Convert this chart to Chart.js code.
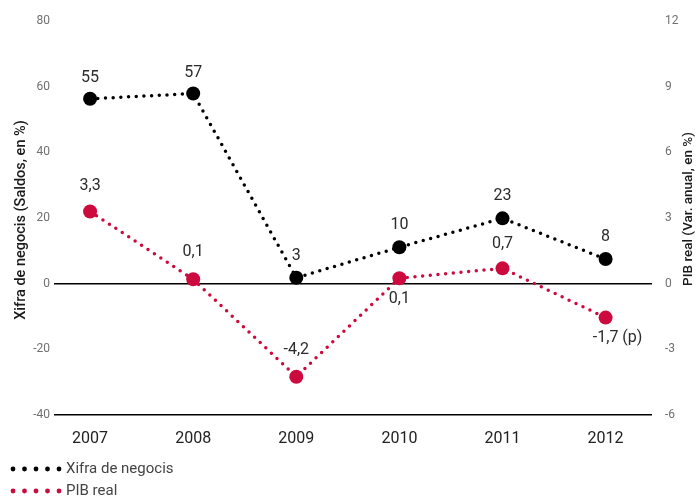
<!DOCTYPE html>
<html>
<head>
<meta charset="utf-8">
<script src="https://cdn.jsdelivr.net/npm/chart.js@4/dist/chart.umd.min.js"></script>
<style>
  html, body { margin: 0; padding: 0; background: #fff; }
  #wrap { width: 696px; height: 500px; }
</style>
</head>
<body>
<div id="wrap"><canvas id="chart"></canvas></div>
<script>
var years = ['2007', '2008', '2009', '2010', '2011', '2012']
var xifraValues = [56.3, 57.9, 1.8, 11.1, 19.9, 7.5]
var xifraLabels = ['55', '57', '3', '10', '23', '8']
var pibValues = [3.3, 0.2, -4.25, 0.25, 0.7, -1.55]
var pibLabels = ['3,3', '0,1', '-4,2', '0,1', '0,7', '-1,7 (p)']
var leftTicks = [80, 60, 40, 20, 0, -20, -40]
var rightTicks = [12, 9, 6, 3, 0, -3, -6]
var leftTitle = 'Xifra de negocis (Saldos, en %)'
var rightTitle = 'PIB real (Var. anual, en %)'

var black = '#000000'
var red = '#cc0a3e'
Chart.defaults.font.family = 'Roboto, sans-serif'

function toPoints(values) {
    return values.map(function (v, i) { return { x: i, y: v } })
}

// where each value label goes relative to its point
var labelPlace = {
    0: { dy: [-21, -21, -22, -22, -22, -22], dx: [0, 0, 0, 0, 0, 0] },
    1: { dy: [-25, -27, -27, 21, -24, 20], dx: [0, 0, 0, 0, 0, 12] }
}

var valueLabels = {
    id: 'valueLabels',
    afterDatasetsDraw: function (chart) {
        var ctx = chart.ctx
        ctx.save()
        ctx.font = '16px Roboto'
        ctx.fillStyle = '#2b2b2b'
        ctx.textAlign = 'center'
        ctx.textBaseline = 'middle'
        chart.data.datasets.forEach(function (ds, d) {
            var meta = chart.getDatasetMeta(d)
            meta.data.forEach(function (pt, i) {
                ctx.fillText(ds.valueText[i], pt.x + labelPlace[d].dx[i], pt.y + labelPlace[d].dy[i])
            })
        })
        ctx.restore()
    }
}

// both axis titles read bottom to top
var axisTitles = {
    id: 'axisTitles',
    afterDraw: function (chart) {
        var ctx = chart.ctx
        ctx.save()
        ctx.fillStyle = '#1a1a1a'
        ctx.textAlign = 'center'
        ctx.textBaseline = 'middle'
        ;[[21, 220, 14.5, leftTitle], [689, 209, 13.5, rightTitle]].forEach(function (t) {
            ctx.save()
            ctx.font = '500 ' + t[2] + 'px Roboto'
            ctx.translate(t[0], t[1])
            ctx.rotate(-Math.PI / 2)
            ctx.fillText(t[3], 0, 0)
            ctx.restore()
        })
        ctx.restore()
    }
}

var dotLegend = {
    id: 'dotLegend',
    afterDraw: function (chart) {
        var ctx = chart.ctx
        ctx.save()
        ctx.font = '15px Roboto'
        ctx.textBaseline = 'middle'
        chart.data.datasets.forEach(function (ds, d) {
            var y = 469 + d * 22
            ctx.fillStyle = ds.borderColor
            for (var k = 0; k < 5; k++) {
                ctx.beginPath()
                ctx.arc(13 + k * 11.5, y, 2.4, 0, Math.PI * 2)
                ctx.fill()
            }
            ctx.fillStyle = '#444'
            ctx.fillText(ds.label, 66, y)
        })
        ctx.restore()
    }
}

new Chart(document.getElementById('chart'), {
    type: 'line',
    data: {
        datasets: [{
            label: 'Xifra de negocis',
            data: toPoints(xifraValues),
            valueText: xifraLabels,
            yAxisID: 'y',
            borderColor: black,
            backgroundColor: black,
            borderWidth: 3.5,
            borderDash: [0, 7.7],
            borderCapStyle: 'round',
            pointRadius: 7,
            pointBorderWidth: 0,
            pointBackgroundColor: black,
            tension: 0
        }, {
            label: 'PIB real',
            data: toPoints(pibValues),
            valueText: pibLabels,
            yAxisID: 'y2',
            borderColor: red,
            backgroundColor: red,
            borderWidth: 3.5,
            borderDash: [0, 7.7],
            borderCapStyle: 'round',
            pointRadius: 7,
            pointBorderWidth: 0,
            pointBackgroundColor: red,
            tension: 0
        }]
    },
    options: {
        responsive: true,
        maintainAspectRatio: false,
        animation: false,
        layout: { padding: { top: 21, bottom: 45, left: 0, right: 0 } },
        plugins: {
            legend: { display: false },
            tooltip: { enabled: false }
        },
        scales: {
            x: {
                type: 'linear',
                min: -0.35,
                max: 5.45,
                afterBuildTicks: function (scale) {
                    scale.ticks = years.map(function (y, i) { return { value: i } })
                },
                afterFit: function (scale) { scale.height = 40 },
                ticks: {
                    callback: function (v) { return years[v] },
                    color: '#222',
                    font: { size: 16 },
                    padding: 6,
                    maxRotation: 0
                },
                grid: { display: false },
                border: { display: false }
            },
            y: {
                position: 'left',
                min: -40,
                max: 80,
                afterBuildTicks: function (scale) {
                    scale.ticks = leftTicks.map(function (v) { return { value: v } })
                },
                afterFit: function (scale) { scale.width = 54 },
                ticks: { color: '#707070', font: { size: 12 }, padding: 4 },
                grid: {
                    drawTicks: false,
                    lineWidth: 1.4,
                    color: function (c) {
                        return (c.tick.value === 0 || c.tick.value === -40) ? '#000' : 'rgba(0,0,0,0)'
                    }
                },
                border: { display: false }
            },
            y2: {
                position: 'right',
                min: -6,
                max: 12,
                afterBuildTicks: function (scale) {
                    scale.ticks = rightTicks.map(function (v) { return { value: v } })
                },
                afterFit: function (scale) { scale.width = 44 },
                ticks: { color: '#707070', font: { size: 12 }, padding: 5 },
                grid: { display: false },
                border: { display: false }
            }
        }
    },
    plugins: [valueLabels, axisTitles, dotLegend]
})
</script>
</body>
</html>
